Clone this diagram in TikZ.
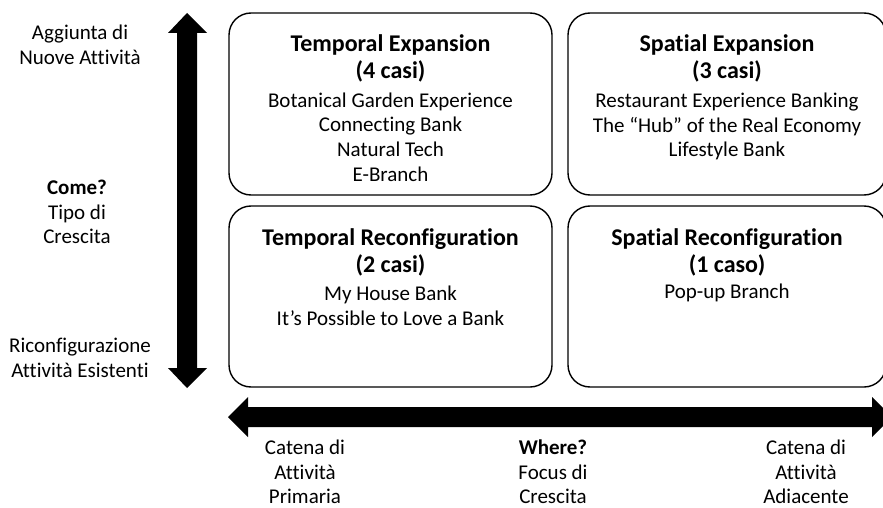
\documentclass[tikz,border=0pt]{standalone}
\usepackage{fontspec}
\setmainfont{Carlito}[Ligatures=NoCommon]
\begin{document}
\begin{tikzpicture}[x=1pt,y=-1pt,
  quadrant/.style={draw=black, line width=1.4pt, rounded corners=22pt},
  qtitle/.style={align=center, font=\bfseries\fontsize{24}{27}\selectfont, inner sep=0pt},
  qitems/.style={align=center, font=\fontsize{21}{24.7}\selectfont, inner sep=0pt},
  axislabel/.style={align=center, font=\fontsize{21}{24.5}\selectfont, inner sep=0pt},
  bigarrow/.style={fill=black}]
\useasboundingbox (0,0) rectangle (883,508);
\clip (0,0) rectangle (883,508);

% quadrant frames
\draw[quadrant] (229,13) rectangle (552,195) coordinate (tl);
\draw[quadrant] (568,13) rectangle (886,195) coordinate (tr);
\draw[quadrant] (229,206) rectangle (552,387) coordinate (bl);
\draw[quadrant] (568,206) rectangle (886,387) coordinate (br);

% quadrant contents
\node[qtitle] (tlt) at (390.5,58) {Temporal Expansion\\(4 casi)};
\node[qitems] (tli) at (390.5,137) {Botanical Garden Experience\\Connecting Bank\\Natural Tech\\E-Branch};
\node[qtitle] (trt) at (727,58) {Spatial Expansion\\(3 casi)};
\node[qitems] (tri) at (727,126.5) {Restaurant Experience Banking\\The “Hub” of the Real Economy\\Lifestyle Bank};
\node[qtitle] (blt) at (390.5,252) {Temporal Reconfiguration\\(2 casi)};
\node[qitems] (bli) at (390.5,305.5) {My House Bank\\It’s Possible to Love a Bank};
\node[qtitle] (brt) at (727,252) {Spatial Reconfiguration\\(1 caso)};
\node[qitems] (bri) at (727,293) {Pop-up Branch};

% vertical double arrow (growth type)
\fill[bigarrow] (187,13) -- (207,33) -- (197,33) -- (197,368) -- (207,368)
  -- (187,388) -- (168,368) -- (177,368) -- (177,33) -- (168,33) -- cycle;
% horizontal double arrow (growth focus)
\fill[bigarrow] (228,417) -- (248,397) -- (248,407) -- (872,407) -- (872,397)
  -- (892,417) -- (872,437) -- (872,427) -- (248,427) -- (248,437) -- cycle;

% vertical axis labels
\node[axislabel] (vtop) at (80,45) {Aggiunta di\\Nuove Attività};
\node[axislabel] (vmid) at (77,212) {\textbf{Come?}\\Tipo di\\Crescita};
\node[axislabel] (vbot) at (80,358) {Riconfigurazione\\Attività Esistenti};

% horizontal axis labels
\node[axislabel] (hleft) at (305,472) {Catena di\\Attività\\Primaria};
\node[axislabel] (hmid) at (553,472) {\textbf{Where?}\\Focus di\\Crescita};
\node[axislabel] (hright) at (806,472) {Catena di\\Attività\\Adiacente};
\end{tikzpicture}
\end{document}
